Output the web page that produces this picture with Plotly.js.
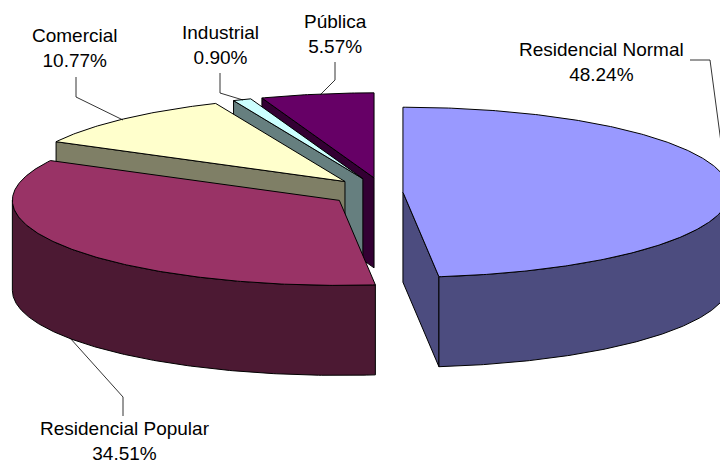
<!DOCTYPE html>
<html><head><meta charset="utf-8">
<script src="https://cdn.plot.ly/plotly-3.0.1.min.js"></script>
<style>html,body{margin:0;padding:0;background:#fff}#chart{width:720px;height:466px}</style>
</head><body><div id="chart"></div>
<script>
// ---- data ----
const categories = ['Residencial Normal', 'Residencial Popular', 'Comercial', 'Industrial', 'Pública'];
const values = [48.24, 34.51, 10.77, 0.90, 5.57];

// ---- style ----
const topColors = ['#9999FF', '#993366', '#FFFFCC', '#CCFFFF', '#660066'];
const sideColors = ['#4C4C7F', '#4C1933', '#7F7F66', '#667F7F', '#330033'];
const pulls = [0.058, 0.165, 0.176, 0.175, 0.175];
const labelPos = [[601, 61.5], [124.5, 441], [75, 47.5], [220, 45], [335, 33.5]];
const leaders = [
  [[690, 60], [710, 60], [726, 180]],
  [[123, 416], [123, 397], [70, 338]],
  [[76, 77], [76, 97], [123, 120]],
  [[220, 73], [220, 93], [243, 100]],
  [[335, 62], [335, 80], [320, 95]]
];
const CX = 384, CY = 192.5, RX = 327, RY = 85, DEPTH = 90;
const drawOrder = [4, 3, 2, 1, 0];

// ---- geometry from data ----
const total = values.reduce((a, b) => a + b, 0);
const rad = d => d * Math.PI / 180;
function P(c, a, dy) { return [c[0] + RX * Math.sin(rad(a)), c[1] - RY * Math.cos(rad(a)) + (dy || 0)]; }
function arc(c, a0, a1, dy) {
  const n = Math.max(2, Math.ceil(Math.abs(a1 - a0) / 0.5));
  const pts = [];
  for (let k = 0; k <= n; k++) pts.push(P(c, a0 + (a1 - a0) * k / n, dy));
  return pts;
}
let acc = 0;
const slices = values.map((v, i) => {
  const a0 = acc / total * 360; acc += v;
  const a1 = acc / total * 360;
  const m = (a0 + a1) / 2;
  const c = [CX + pulls[i] * RX * Math.sin(rad(m)), CY - pulls[i] * RY * Math.cos(rad(m))];
  return { a0, a1, c };
});
function poly(pts, fill) {
  return {
    type: 'scatter', mode: 'lines',
    x: pts.map(p => p[0]).concat([pts[0][0]]),
    y: pts.map(p => p[1]).concat([pts[0][1]]),
    fill: 'toself', fillcolor: fill,
    line: { color: '#000', width: 1 },
    hoverinfo: 'skip', showlegend: false
  };
}
const traces = [];
drawOrder.forEach(i => {
  const s = slices[i], c = s.c, cb = [c[0], c[1] + DEPTH];
  if (Math.sin(rad(s.a0)) < -1e-6) traces.push(poly([c, P(c, s.a0), P(c, s.a0, DEPTH), cb], sideColors[i]));
  if (Math.sin(rad(s.a1)) > 1e-6) traces.push(poly([c, P(c, s.a1), P(c, s.a1, DEPTH), cb], sideColors[i]));
  const st = Math.max(s.a0, 90), en = Math.min(s.a1, 270);
  if (en > st) traces.push(poly(arc(c, st, en, 0).concat(arc(c, st, en, DEPTH).reverse()), sideColors[i]));
  traces.push(poly([c].concat(arc(c, s.a0, s.a1, 0)), topColors[i]));
});

const annotations = categories.map((cat, i) => ({
  x: labelPos[i][0], y: labelPos[i][1], xref: 'x', yref: 'y',
  text: cat + '<br>' + values[i].toFixed(2) + '%',
  showarrow: false, xanchor: 'center', yanchor: 'middle', align: 'center',
  font: { family: 'Liberation Sans, Arial, sans-serif', size: 19, color: '#000' }
}));
const shapes = leaders.map(l => ({
  type: 'path', xref: 'x', yref: 'y',
  path: 'M' + l.map(p => p[0] + ',' + p[1]).join(' L'),
  line: { color: '#000', width: 0.8 }
}));

const layout = {
  width: 720, height: 466,
  margin: { l: 0, r: 0, t: 0, b: 0 },
  paper_bgcolor: '#fff', plot_bgcolor: '#fff',
  xaxis: { range: [0, 720], visible: false, fixedrange: true },
  yaxis: { range: [466, 0], visible: false, fixedrange: true },
  showlegend: false,
  annotations, shapes
};
Plotly.newPlot('chart', traces, layout, { staticPlot: true, displayModeBar: false });
</script>
</body></html>
